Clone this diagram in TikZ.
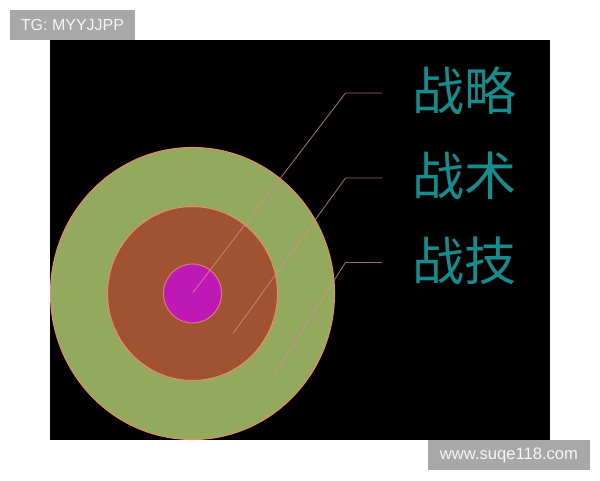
\documentclass[tikz,border=0pt]{standalone}
\usepackage{fontspec}
\setmainfont{Liberation Sans}
\newfontfamily\cjk{Noto Sans CJK SC}
\usetikzlibrary{shapes.geometric}
\definecolor{ringgreen}{RGB}{147,170,94}
\definecolor{ringbrown}{RGB}{160,82,50}
\definecolor{ringmag}{RGB}{190,25,180}
\definecolor{ringedge}{RGB}{226,140,105}
\definecolor{leader}{RGB}{215,140,145}
\definecolor{labteal}{RGB}{22,140,140}
\definecolor{wmgray}{RGB}{168,168,168}
\definecolor{wmtext}{RGB}{245,245,245}
\begin{document}
\begin{tikzpicture}[x=1pt,y=-1pt,
  ring/.style={ellipse,draw=ringedge,line width=1.1pt,inner sep=0pt,outer sep=0pt},
  leaderline/.style={draw=leader,draw opacity=0.75,line width=0.9pt},
  lab/.style={font=\cjk\fontsize{52}{52}\selectfont,text=labteal,inner sep=0pt},
  wm/.style={fill=wmgray,text=wmtext,font=\fontsize{16}{16}\selectfont,inner sep=0pt}]
\useasboundingbox (0,0) rectangle (600,480);
\fill[white] (0,0) rectangle (600,480);
\fill[black] (50,40) rectangle (550,440);
\begin{scope}
\clip (50,40) rectangle (550,440);
\node[ring,fill=ringgreen,minimum width=284pt,minimum height=292pt] (outer) at (192.5,293.5) {};
\node[ring,fill=ringbrown,minimum width=170pt,minimum height=174pt] (middle) at (192.5,293.5) {};
\node[ring,fill=ringmag,minimum width=58pt,minimum height=59pt,draw=ringedge!80!ringmag] (inner) at (192.5,293.5) {};
\end{scope}
% leader coordinates
\coordinate (s1) at (193,292.5);
\coordinate (b1) at (345.5,93);
\coordinate (e1) at (382,93);
\coordinate (s2) at (233,333.5);
\coordinate (b2) at (345.5,178);
\coordinate (e2) at (382,178);
\coordinate (s3) at (275,373.5);
\coordinate (b3) at (345.5,262.5);
\coordinate (e3) at (382,262.5);
\draw[leaderline] (s1) -- (b1) -- (e1);
\draw[leaderline] (s2) -- (b2) -- (e2);
\draw[leaderline] (s3) -- (b3) -- (e3);
\node[lab] (l1) at (464,91) {战略};
\node[lab] (l2) at (464,176) {战术};
\node[lab] (l3) at (464,261) {战技};
% watermarks
\node[wm,minimum width=125pt,minimum height=29.5pt] (wm1) at (72.5,24.75) {TG: MYYJJPP};
\node[wm,minimum width=162pt,minimum height=30pt,font=\fontsize{16.6}{16.6}\selectfont] (wm2) at (509,455) {www.suqe118.com};
\end{tikzpicture}
\end{document}
